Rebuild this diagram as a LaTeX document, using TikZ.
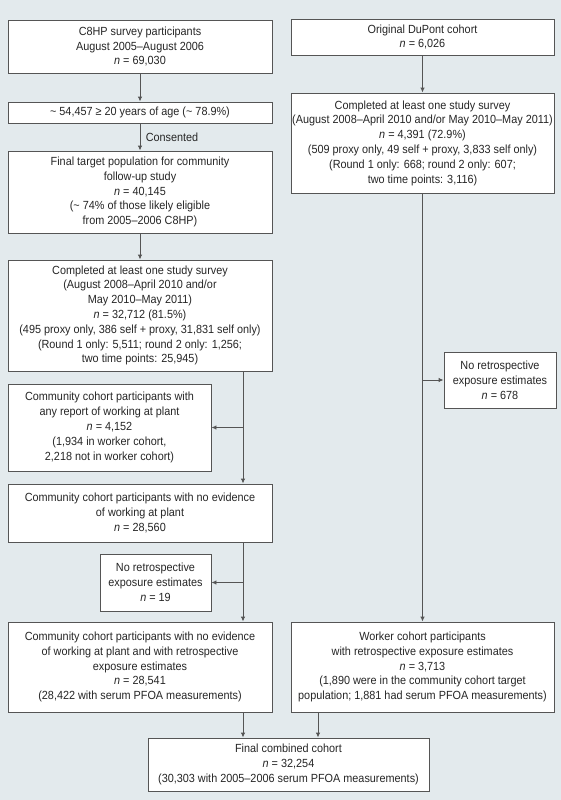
\documentclass[tikz,border=0pt]{standalone}
\usepackage{fontspec}
\setmainfont{Liberation Sans}[FakeStretch=0.92]
\usetikzlibrary{arrows.meta}
\definecolor{panel}{HTML}{E3EAED}
\definecolor{edge}{HTML}{555555}
\definecolor{ink}{HTML}{262626}

\begin{document}
\begin{tikzpicture}[x=1pt, y=-1pt,
    box/.style={rectangle, draw=edge, fill=white, line width=0.9pt, inner sep=0pt,
        align=center, text=ink, font=\fontsize{11.8}{14.8}\selectfont},
    flow/.style={draw=edge, line width=0.9pt, -{Latex[length=5pt,width=4.5pt]}}]
    \fill[panel] (0,0) rectangle (561,800);
    \useasboundingbox (0,0) rectangle (561,800);
    % community side
    \node[box, minimum width=264, minimum height=53] (survey) at (140,46.5)
        {C8HP survey participants\\August 2005--August 2006\\\emph{n} = 69,030};
    \node[box, minimum width=264, minimum height=21] (adults) at (140,112.5)
        {\textasciitilde{} 54,457 ≥ 20 years of age (\textasciitilde{} 78.9\%)};
    \node[box, minimum width=264, minimum height=82] (target) at (140,192)
        {Final target population for community\\follow-up study\\\emph{n} = 40,145\\(\textasciitilde{} 74\% of those likely eligible\\from 2005--2006 C8HP)};
    \node[box, minimum width=264, minimum height=111] (commsurvey) at (140,315.5)
        {Completed at least one study survey\\(August 2008--April 2010 and/or\\May 2010--May 2011)\\\emph{n} = 32,712 (81.5\%)\\(495 proxy only, 386 self + proxy, 31,831 self only)\\(Round 1 only: 5,511; round 2 only: 1,256;\\two time points: 25,945)};
    \node[box, minimum width=203, minimum height=87] (worked) at (109.5,427.5)
        {Community cohort participants with\\any report of working at plant\\\emph{n} = 4,152\\(1,934 in worker cohort,\\2,218 not in worker cohort)};
    \node[box, minimum width=264, minimum height=58] (notworked) at (140,513)
        {Community cohort participants with no evidence\\of working at plant\\\emph{n} = 28,560};
    \node[box, minimum width=111, minimum height=57] (noest) at (155.5,582.5)
        {No retrospective\\exposure estimates\\\emph{n} = 19};
    \node[box, minimum width=264, minimum height=90] (commfinal) at (140,667)
        {Community cohort participants with no evidence\\of working at plant and with retrospective\\exposure estimates\\\emph{n} = 28,541\\(28,422 with serum PFOA measurements)};
    % worker side
    \node[box, minimum width=263, minimum height=36] (dupont) at (422.5,37)
        {Original DuPont cohort\\\emph{n} = 6,026};
    \node[box, minimum width=263, minimum height=100] (worksurvey) at (422.5,143)
        {Completed at least one study survey\\(August 2008--April 2010 and/or May 2010--May 2011)\\\emph{n} = 4,391 (72.9\%)\\(509 proxy only, 49 self + proxy, 3,833 self only)\\(Round 1 only: 668; round 2 only: 607;\\two time points: 3,116)};
    \node[box, minimum width=112, minimum height=56] (worknoest) at (500,380)
        {No retrospective\\exposure estimates\\\emph{n} = 678};
    \node[box, minimum width=263, minimum height=90] (workfinal) at (422.5,667)
        {Worker cohort participants\\with retrospective exposure estimates\\\emph{n} = 3,713\\(1,890 were in the community cohort target\\population; 1,881 had serum PFOA measurements)};
    % combined
    \node[box, minimum width=281, minimum height=53] (combined) at (288.5,764.5)
        {Final combined cohort\\\emph{n} = 32,254\\(30,303 with 2005--2006 serum PFOA measurements)};
    \coordinate (lt) at (243,0);
    \coordinate (rt) at (318,0);
    % arrows
    \draw[flow] (survey) -- (adults);
    \draw[flow] (adults) -- node[right, text=ink, font=\fontsize{11.8}{13}\selectfont, xshift=2pt] {Consented} (target);
    \draw[flow] (target) -- (commsurvey);
    \draw[flow] (commsurvey.south -| lt) -- (notworked.north -| lt);
    \draw[flow] (worked.east -| lt) -- (worked.east);
    \draw[flow] (notworked.south -| lt) -- (commfinal.north -| lt);
    \draw[flow] (noest.east -| lt) -- (noest.east);
    \draw[flow] (commfinal.south -| lt) -- (combined.north -| lt);
    \draw[flow] (dupont) -- (worksurvey);
    \draw[flow] (worksurvey) -- (workfinal);
    \draw[flow] (worknoest.west -| worksurvey) -- (worknoest.west);
    \draw[flow] (workfinal.south -| rt) -- (combined.north -| rt);
\end{tikzpicture}
\end{document}
